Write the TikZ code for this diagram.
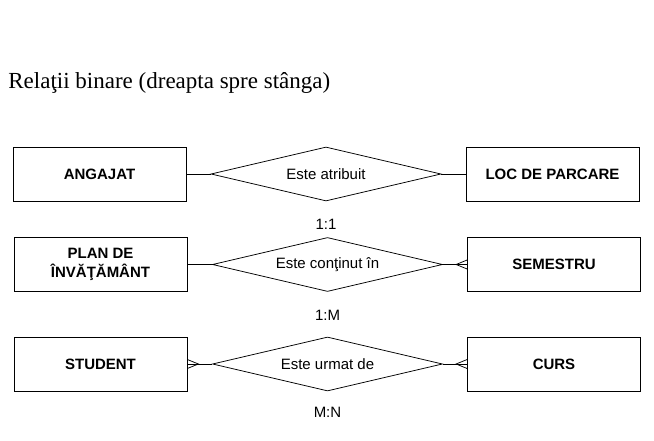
\documentclass[tikz,border=0pt]{standalone}
\usepackage{fontspec}
\setmainfont{Liberation Sans}
\newfontfamily\titlefont{Liberation Serif}
\usetikzlibrary{shapes.geometric}
\tikzset{
  entity/.style={draw, minimum width=173, minimum height=54, align=center, font=\bfseries\fontsize{15}{18.5}\selectfont},
  relation/.style={draw, diamond, aspect=4.26, inner sep=0pt, minimum width=230, minimum height=54, font=\fontsize{15}{17}\selectfont},
  card/.style={font=\fontsize{15}{17}\selectfont}
}
% crow's foot at the entity border, #2 = length towards the relation
\def\crowfoot#1#2{\draw (#1) ++(0,-4.5) -- ++(#2,4.5) -- ++(-#2,4.5);}

\begin{document}
\begin{tikzpicture}[x=1pt, y=-1pt, line width=0.75pt]
    \useasboundingbox (0,0) rectangle (654,441);
    \node[anchor=base west, inner sep=0pt, font=\titlefont\fontsize{23}{27}\selectfont] (title) at (8,89) {Relaţii binare (dreapta spre stânga)};
    % 1:1
    \node[entity] (ang) at (99.5,174) {ANGAJAT};
    \node[relation] (atr) at (326,174) {Este atribuit};
    \node[entity] (loc) at (552.5,174) {LOC DE PARCARE};
    \node[card] (c11) at (326,224) {1:1};
    \draw (ang) -- (atr) -- (loc);
    % 1:M
    \node[entity] (plan) at (100.5,264.5) {PLAN DE\\ÎNVĂŢĂMÂNT};
    \node[relation] (cont) at (327.5,264.5) {Este conţinut în};
    \node[entity] (sem) at (554,264.5) {SEMESTRU};
    \node[card] (c1m) at (327.5,315) {1:M};
    \draw (plan) -- (cont) -- (sem);
    \crowfoot{sem.west}{-11}
    % M:N
    \node[entity] (stud) at (100.5,364) {STUDENT};
    \node[relation] (urm) at (327.5,364) {Este urmat de};
    \node[entity] (curs) at (554,364) {CURS};
    \node[card] (cmn) at (327.5,412) {M:N};
    \draw (stud) -- (urm) -- (curs);
    \crowfoot{stud.east}{11}
    \crowfoot{curs.west}{-11}
\end{tikzpicture}
\end{document}
